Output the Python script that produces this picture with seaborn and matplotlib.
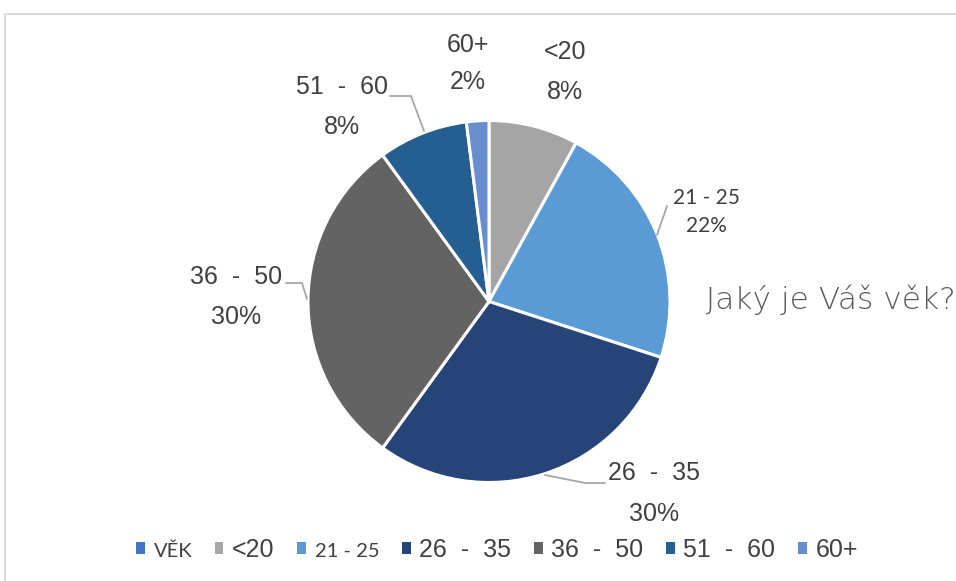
import matplotlib
matplotlib.use("Agg")
import matplotlib.pyplot as plt
from matplotlib.patches import Rectangle, Patch
from matplotlib.lines import Line2D
import seaborn as sns

# ---- data ----
categories = ["<20", "21 - 25", "26 - 35", "36 - 50", "51 - 60", "60+"]
label_names = ["<20", "21 - 25", "26  -  35", "36  -  50", "51  -  60", "60+"]
values = [8, 22, 30, 30, 8, 2]
legend_labels = ["VĚK", "<20", "21 - 25", "26  -  35", "36  -  50", "51  -  60", "60+"]
title_text = "Jaký je Váš věk?"

colors = ["#A5A5A5", "#5B9BD5", "#264478", "#636363", "#255E91", "#698ED0"]
vek_color = "#4472C4"

sns.set_theme(style="white")
plt.rcParams["font.family"] = ["Liberation Sans", "DejaVu Sans"]

W, H = 956, 581
fig = plt.figure(figsize=(W / 100, H / 100), dpi=100)
fig.patch.set_facecolor("white")


def fx(x):
    return x / W


def fy(y):
    return 1 - y / H


# border
fig.patches.append(Rectangle((fx(5), -0.2), 1.5, fy(14) + 0.2, transform=fig.transFigure,
                             fill=False, edgecolor="#D9D9D9", linewidth=1.4))

# pie axes
cx, cy, r = 489, 301.5, 181
ax = fig.add_axes([fx(cx - r), fy(cy + r), 2 * r / W, 2 * r / H])
ax.pie(values, colors=colors, startangle=90, counterclock=False,
       wedgeprops=dict(edgecolor="white", linewidth=2.2))
ax.set_xlim(-1, 1)
ax.set_ylim(-1, 1)
ax.axis("off")

txt_color = "#404040"
line_color = "#A6A6A6"

# data labels (name, percent) positioned like the reference
label_pos = {
    "<20": (565, 52, 92),
    "21 - 25": (706, 198, 226),
    "26 - 35": (654, 473, 514),
    "36 - 50": (236, 277, 317),
    "51 - 60": (342, 87, 127),
    "60+": (468, 45, 82),
}
for cat, name, v in zip(categories, label_names, values):
    x, y1, y2 = label_pos[cat]
    if cat == "21 - 25":
        kw = dict(fontsize=15, family=["Lato", "DejaVu Sans"])
    else:
        kw = dict(fontsize=18)
    fig.text(fx(x), fy(y1), name, ha="center", va="center", color=txt_color, **kw)
    fig.text(fx(x), fy(y2), f"{v}%", ha="center", va="center", color=txt_color, **kw)

# leader lines
leaders = [
    [(390, 96), (411, 96), (424, 131)],
    [(667, 206), (657, 235)],
    [(286, 283), (302, 283), (307, 299)],
    [(545, 475), (585, 483), (605, 483)],
]
for pts in leaders:
    xs = [fx(p[0]) for p in pts]
    ys = [fy(p[1]) for p in pts]
    fig.lines.append(Line2D(xs, ys, transform=fig.transFigure, color=line_color, linewidth=1.3))

# title on the right
fig.text(fx(706), fy(300), title_text, ha="left", va="center", fontsize=22.5,
         color="#595959", family=["DejaVu Sans"], fontweight="light")

# legend
handles = [Patch(facecolor=vek_color, edgecolor="none")] + \
          [Patch(facecolor=c, edgecolor="none") for c in colors]
leg = fig.legend(handles, legend_labels, loc="center", bbox_to_anchor=(fx(497), fy(550)),
                 ncol=7, frameon=False, fontsize=18, handlelength=0.35, handleheight=0.35,
                 handletextpad=0.35, columnspacing=0.9, labelcolor=txt_color)
for t, lab in zip(leg.get_texts(), legend_labels):
    if lab in ("VĚK", "21 - 25"):
        t.set_fontsize(14.5)
        t.set_fontfamily(["Lato", "DejaVu Sans"])

fig.savefig("out.png", dpi=100, facecolor="white")
